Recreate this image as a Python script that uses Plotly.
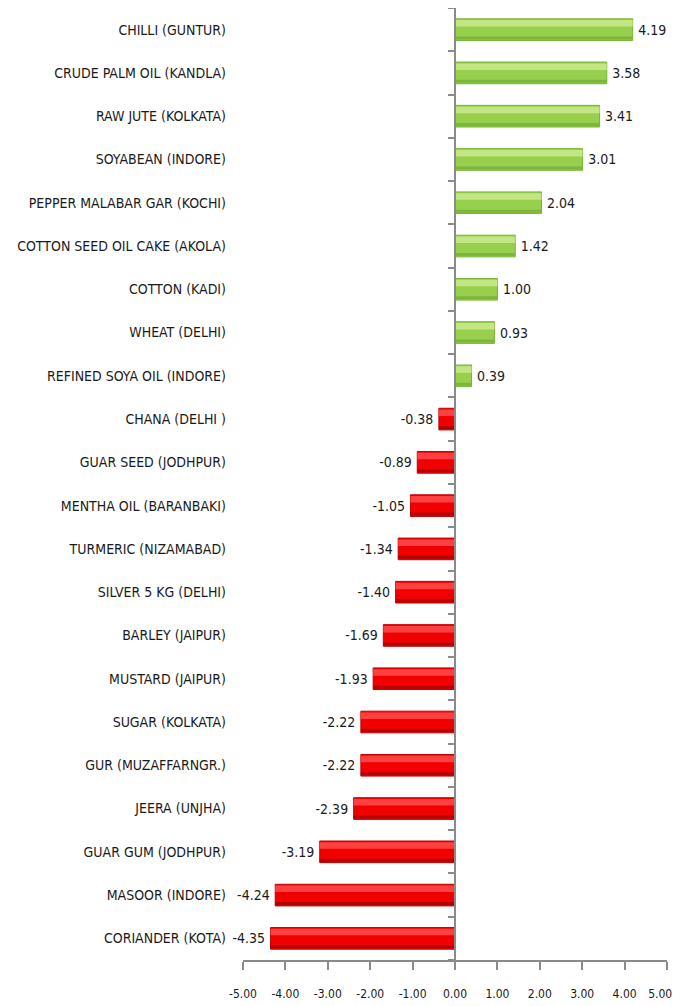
import plotly.graph_objects as go

# commodity price change (%), top to bottom as shown
commodities = [
    "CHILLI (GUNTUR)", "CRUDE PALM OIL (KANDLA)", "RAW JUTE (KOLKATA)",
    "SOYABEAN (INDORE)", "PEPPER MALABAR GAR (KOCHI)", "COTTON SEED OIL CAKE (AKOLA)",
    "COTTON (KADI)", "WHEAT (DELHI)", "REFINED SOYA OIL (INDORE)", "CHANA (DELHI )",
    "GUAR SEED (JODHPUR)", "MENTHA OIL (BARANBAKI)", "TURMERIC (NIZAMABAD)",
    "SILVER 5 KG (DELHI)", "BARLEY (JAIPUR)", "MUSTARD (JAIPUR)", "SUGAR (KOLKATA)",
    "GUR (MUZAFFARNGR.)", "JEERA (UNJHA)", "GUAR GUM (JODHPUR)", "MASOOR (INDORE)",
    "CORIANDER (KOTA)",
]
changes = [4.19, 3.58, 3.41, 3.01, 2.04, 1.42, 1.00, 0.93, 0.39, -0.38, -0.89,
           -1.05, -1.34, -1.40, -1.69, -1.93, -2.22, -2.22, -2.39, -3.19, -4.24, -4.35]
x_ticks = [-5, -4, -3, -2, -1, 0, 1, 2, 3, 4, 5]

FONT = "DejaVu Sans Condensed, Liberation Sans Narrow, sans-serif"
AXIS_GREY = "#8a8a8a"
TEXT = "#1a1a1a"

pos = list(range(len(commodities)))
base_col = ["#96d04c" if v >= 0 else "#f00000" for v in changes]
edge_col = ["#78b232" if v >= 0 else "#c00000" for v in changes]
light_col = ["#c2e684" if v >= 0 else "#ff4040" for v in changes]
dark_col = ["#7cb63a" if v >= 0 else "#b40000" for v in changes]
# labels padded away from the bar end
labels = ["\u2009" + f"{v:.2f}" if v >= 0 else f"{v:.2f}" + "\u2009" for v in changes]

# x tick labels; the last one is padded so it stays inside the window
x_ticktext = [f"{t:.2f}" for t in x_ticks]
x_ticktext[-1] = x_ticktext[-1] + "\u00a0" * 4

fig = go.Figure()

# main bar with value labels
fig.add_trace(go.Bar(
    x=changes, y=pos, orientation="h", width=0.5,
    marker=dict(color=base_col, line=dict(color=edge_col, width=1)),
    text=labels, textposition="outside", cliponaxis=False,
    textfont=dict(family=FONT, size=14, color=TEXT),
    showlegend=False, hoverinfo="skip",
))
# top highlight
fig.add_trace(go.Bar(
    x=changes, y=pos, orientation="h", width=0.15, offset=-0.22,
    marker=dict(color=light_col, line=dict(width=0)),
    showlegend=False, hoverinfo="skip",
))
# bottom shading
fig.add_trace(go.Bar(
    x=changes, y=pos, orientation="h", width=0.07, offset=0.16,
    marker=dict(color=dark_col, line=dict(width=0)),
    showlegend=False, hoverinfo="skip",
))
# dummy trace so the vertical axis at zero gets drawn
fig.add_trace(go.Scatter(x=[0], y=[0], yaxis="y2", mode="markers",
                         marker=dict(opacity=0), showlegend=False, hoverinfo="skip"))

n = len(commodities)
# page body adds an 8px margin, so the figure is sized 8px short
fig.update_layout(
    width=672, height=998,
    barmode="overlay",
    plot_bgcolor="white", paper_bgcolor="white",
    margin=dict(l=235, r=13, t=0, b=46),
    font=dict(family=FONT, size=14, color=TEXT),
    xaxis=dict(
        range=[x_ticks[0], x_ticks[-1]], tickvals=x_ticks,
        ticktext=x_ticktext,
        showgrid=False, zeroline=False, automargin=False, tickangle=0,
        showline=True, linecolor=AXIS_GREY, linewidth=2,
        ticks="outside", ticklen=8, tickwidth=2, tickcolor=AXIS_GREY,
        ticklabelstandoff=14, ticklabeloverflow="allow",
        tickfont=dict(family=FONT, size=12, color=TEXT),
    ),
    yaxis=dict(
        range=[n - 0.5, -0.5], tickvals=pos, ticktext=commodities,
        showgrid=False, zeroline=False, showline=False, ticks="",
        automargin=False, ticklabelstandoff=16,
        tickfont=dict(family=FONT, size=14, color=TEXT),
    ),
    yaxis2=dict(
        overlaying="y", anchor="free", automargin=False,
        position=(0 - x_ticks[0]) / (x_ticks[-1] - x_ticks[0]),
        range=[n - 0.5, -0.5], tickvals=[p - 0.5 for p in pos] + [n - 0.5],
        showticklabels=False, showgrid=False, zeroline=False,
        showline=True, linecolor=AXIS_GREY, linewidth=2,
        ticks="outside", ticklen=6, tickwidth=2, tickcolor=AXIS_GREY,
    ),
)

fig.write_html("out.html")
